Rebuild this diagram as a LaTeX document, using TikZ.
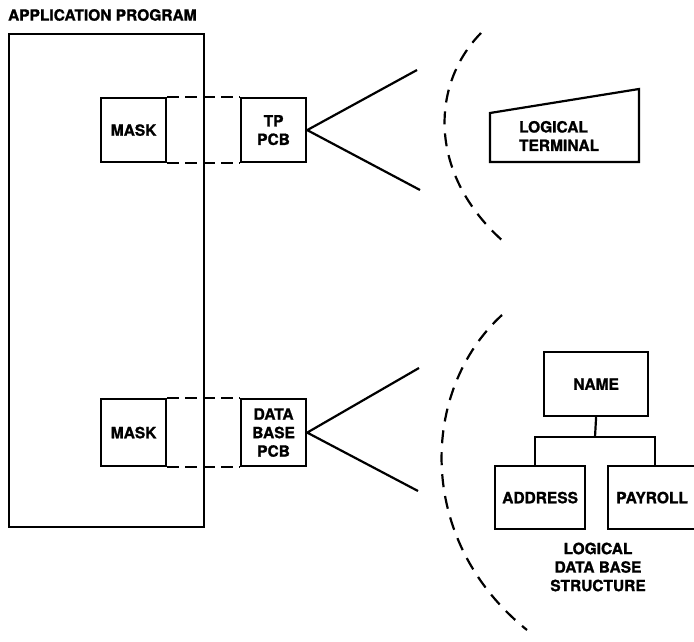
\documentclass[tikz,border=0pt]{standalone}
\usepackage{fontspec}
\setmainfont[FakeBold=1.2]{TeX Gyre Heros}
\begin{document}
\begin{tikzpicture}[x=1pt,y=-1pt,
  line width=2.2pt,
  lbl/.style={font=\bfseries\fontsize{15.5}{18.5}\selectfont, align=center, inner sep=0pt},
  bx/.style={draw, line width=2.2pt, rectangle, inner sep=0pt, lbl},
  dsh/.style={dash pattern=on 12pt off 6pt, line width=2.2pt},
  arcd/.style={dash pattern=on 13pt off 9pt, line width=2.2pt}]
\useasboundingbox (0,0) rectangle (694,642);
% title
\node[lbl, anchor=west] (title) at (7,15) {APPLICATION PROGRAM};
% program box
\node[draw, line width=2.2pt, minimum width=195pt, minimum height=493pt, anchor=north west, inner sep=0pt] (prog) at (8,33) {};
% top
\node[bx, minimum width=65pt, minimum height=64pt, anchor=north west] (mask1) at (100,97) {MASK};
\node[bx, minimum width=65pt, minimum height=64pt, anchor=north west] (tp) at (240,97) {TP\\PCB};
\draw[dsh] (mask1.north east) -- (tp.north west);
\draw[dsh] (mask1.south east) -- (tp.south west);
\coordinate (t1) at (417,70);
\coordinate (t2) at (420,190);
\draw (t1) -- (tp.east) -- (t2);
\draw[arcd] (481,33) .. controls (430,85) and (428,175) .. (504,242);
\draw[line join=miter] (490,113) -- (639,89) -- (639,162) -- (490,162) -- cycle;
\node[lbl, align=left, anchor=west] (term) at (518,136) {LOGICAL\\TERMINAL};
% bottom
\node[bx, minimum width=65pt, minimum height=67pt, anchor=north west] (mask2) at (100,398) {MASK};
\node[bx, minimum width=65pt, minimum height=67pt, anchor=north west] (db) at (240,398) {DATA\\BASE\\PCB};
\draw[dsh] (mask2.north east) -- (db.north west);
\draw[dsh] (mask2.south east) -- (db.south west);
\coordinate (b1) at (419,368);
\coordinate (b2) at (418,491);
\draw (b1) -- (db.east) -- (b2);
\draw[arcd] (502,315) .. controls (420,390) and (415,540) .. (527,630);
% tree
\node[bx, minimum width=104pt, minimum height=64pt, anchor=north west] (name) at (543,351) {NAME};
\node[bx, minimum width=90pt, minimum height=63pt, anchor=north west] (addr) at (494,465) {ADDRESS};
\node[bx, minimum width=88pt, minimum height=63pt, anchor=north west] (pay) at (607,465) {PAYROLL};
\coordinate (j) at (595,437);
\draw (name.south) -- (j);
\draw (addr.north -| 535,0) -- (535,437) -- (655,437) -- (pay.north -| 655,0);
\node[lbl] (ldb) at (598,567) {LOGICAL\\DATA BASE\\STRUCTURE};
\end{tikzpicture}
\end{document}
